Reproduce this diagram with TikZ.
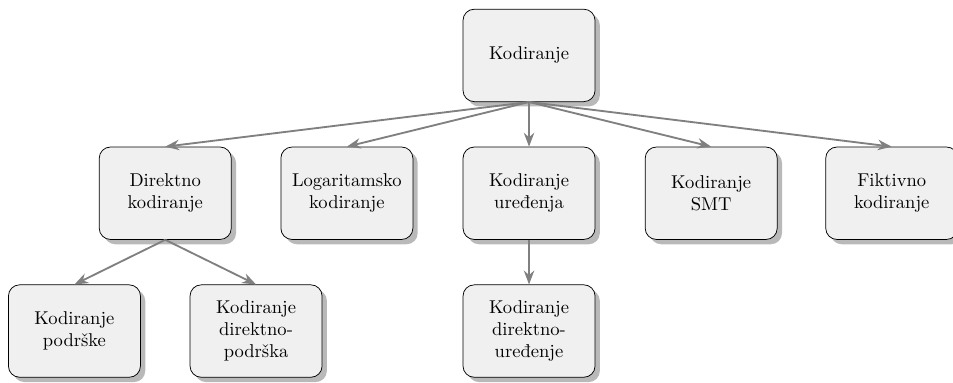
\documentclass[tikz,border=0pt]{standalone}
\usepackage{tikz}
\usetikzlibrary{arrows.meta, positioning, shadows}

\begin{document}
\begin{tikzpicture}[>=Stealth,
    box/.style={draw, rounded corners=6pt, fill=black!6,
      drop shadow={opacity=0.55, shadow xshift=2.6pt, shadow yshift=-2.6pt},
      minimum width=2.5cm, minimum height=1.75cm, align=center},
    edge/.style={->, gray, line width=1pt}]
  \useasboundingbox (-10.02,1.05) rectangle (8.03,-6.2);
  % Root
  \node[box] (root) at (0,0) {Kodiranje};
  % Second level
  \node[box] (dir) at (-6.89,-2.61) {Direktno\\kodiranje};
  \node[box] (log) at (-3.45,-2.61) {Logaritamsko\\kodiranje};
  \node[box] (ord) at (0,-2.61) {Kodiranje\\uređenja};
  \node[box] (smt) at (3.45,-2.61) {Kodiranje\\SMT};
  \node[box] (fik) at (6.87,-2.61) {Fiktivno\\kodiranje};
  % Third level
  \node[box] (sup) at (-8.61,-5.22) {Kodiranje\\podrške};
  \node[box] (dsup) at (-5.17,-5.22) {Kodiranje\\direktno-\\podrška};
  \node[box] (dord) at (0,-5.22) {Kodiranje\\direktno-\\uređenje};
  % Connectors
  \foreach \c in {dir, log, ord, smt, fik}
    \draw[edge] (root.south) -- (\c.north);
  \draw[edge] (dir.south) -- (sup.north);
  \draw[edge] (dir.south) -- (dsup.north);
  \draw[edge] (ord.south) -- (dord.north);
\end{tikzpicture}
\end{document}
